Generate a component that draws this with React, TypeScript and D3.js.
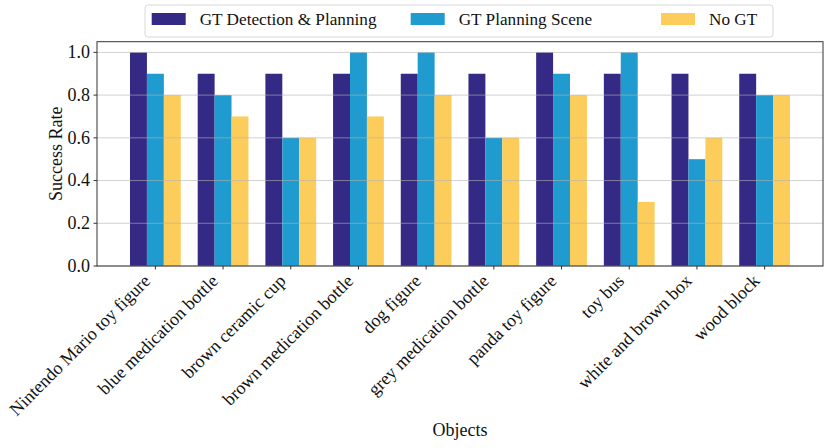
import React from "react";
import * as d3 from "d3";

const categories = [
  "Nintendo Mario toy figure",
  "blue medication bottle",
  "brown ceramic cup",
  "brown medication bottle",
  "dog figure",
  "grey medication bottle",
  "panda toy figure",
  "toy bus",
  "white and brown box",
  "wood block",
];
const seriesNames = ["GT Detection & Planning", "GT Planning Scene", "No GT"];
const gtDetection = [1.0, 0.9, 0.9, 0.9, 0.9, 0.9, 1.0, 0.9, 0.9, 0.9];
const gtPlanning = [0.9, 0.8, 0.6, 1.0, 1.0, 0.6, 0.9, 1.0, 0.5, 0.8];
const noGT = [0.8, 0.7, 0.6, 0.7, 0.8, 0.6, 0.8, 0.3, 0.6, 0.8];
const yTicks = [0.0, 0.2, 0.4, 0.6, 0.8, 1.0];
const colors = ["#342a85", "#1f9bcf", "#fdcd5b"];

const W = 830;
const H = 448;
const L = 97;
const R = 823;
const T = 41.7;
const B = 266;
const FONT = "'Liberation Serif', 'Times New Roman', serif";

export default function App() {
  const series = [gtDetection, gtPlanning, noGT];
  const barW = 0.25;
  const x = d3.scaleLinear().domain([-0.8625, 9.8625]).range([L, R]);
  const y = d3.scaleLinear().domain([0, 1.05]).range([B, T]);
  const unit = x(1) - x(0);

  const legendX = [151.7, 410.7, 661];
  return (
    <svg
      width={W}
      height={H}
      style={{ position: "absolute", left: 0, top: 0, background: "#fff" }}
      fontFamily={FONT}
    >
      <rect x={0} y={0} width={W} height={H} fill="#fff" />
      {/* bars */}
      {categories.map((c, i) =>
        series.map((s, j) => {
          const cx = i + (j - 1) * barW;
          return (
            <rect
              key={`${i}-${j}`}
              x={x(cx - barW / 2)}
              y={y(s[i])}
              width={barW * unit}
              height={y(0) - y(s[i])}
              fill={colors[j]}
            />
          );
        })
      )}
      {/* grid */}
      {yTicks.map((t) => (
        <line
          key={t}
          x1={L}
          x2={R}
          y1={y(t)}
          y2={y(t)}
          stroke="#b0b0b0"
          strokeOpacity={0.6}
          strokeWidth={1}
        />
      ))}
      {/* frame */}
      <rect x={L} y={T} width={R - L} height={B - T} fill="none" stroke="#333" strokeWidth={1} />
      {/* y ticks */}
      {yTicks.map((t) => (
        <g key={`yt${t}`}>
          <line x1={L - 3.5} x2={L} y1={y(t)} y2={y(t)} stroke="#333" />
          <text
            x={L - 7}
            y={y(t)}
            dy="0.33em"
            textAnchor="end"
            fontSize={18}
            fill="#111"
          >
            {t.toFixed(1)}
          </text>
        </g>
      ))}
      {/* x ticks */}
      {categories.map((c, i) => (
        <g key={`xt${i}`}>
          <line x1={x(i)} x2={x(i)} y1={B} y2={B + 3.5} stroke="#333" />
          <text
            transform={`translate(${x(i) - 4},${B + 16}) rotate(-45)`}
            textAnchor="end"
            fontSize={18}
            fill="#111"
          >
            {c}
          </text>
        </g>
      ))}
      {/* axis labels */}
      <text
        transform={`translate(62,${(T + B) / 2}) rotate(-90)`}
        textAnchor="middle"
        fontSize={18}
        fill="#111"
      >
        Success Rate
      </text>
      <text x={(L + R) / 2} y={436} textAnchor="middle" fontSize={18} fill="#111">
        Objects
      </text>
      {/* legend */}
      <rect x={145} y={5} width={628} height={32} rx={3} fill="#fff" fillOpacity={0.8} stroke="#d8d8d8" />
      {seriesNames.map((n, j) => (
        <g key={n}>
          <rect x={legendX[j]} y={13} width={34} height={12} fill={colors[j]} />
          <text x={legendX[j] + 48} y={19.5} dy="0.33em" fontSize={17.2} fill="#111">
            {n}
          </text>
        </g>
      ))}
    </svg>
  );
}
